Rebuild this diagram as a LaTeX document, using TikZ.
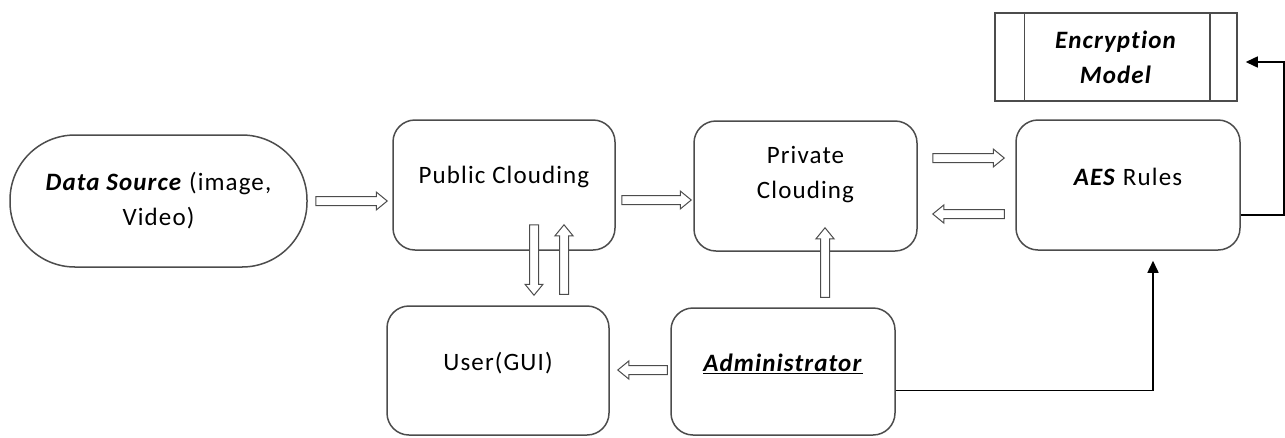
\documentclass[tikz,border=0pt]{standalone}
\usepackage{fontspec}
\setmainfont[LetterSpace=4.5, Ligatures=NoCommon]{Carlito}
\usetikzlibrary{calc,arrows.meta}
\begin{document}
\begin{tikzpicture}[x=1pt,y=-1pt,
  txt/.style={font=\fontsize{25}{35}\selectfont, align=center, text=black},
  box/.style={draw=black!70, line width=1.5pt, rounded corners=22pt, inner sep=0pt},
  barrow/.style={draw=black!70, line width=1pt, fill=white,
    to path={let \p1=(\tikztostart), \p2=(\tikztotarget), \p3=($(\p2)!11pt!(\p1)$) in
      ($(\p1)!4.5pt!90:(\p2)$) -- ($(\p3)!4.5pt!90:(\p2)$) -- ($(\p3)!9pt!90:(\p2)$) -- (\p2)
      -- ($(\p3)!9pt!-90:(\p2)$) -- ($(\p3)!4.5pt!-90:(\p2)$) -- ($(\p1)!4.5pt!-90:(\p2)$) -- cycle}},
  conn/.style={draw=black, line width=1.5pt, -{Triangle[length=12pt,width=11pt]}}
]
\useasboundingbox (0,0) rectangle (1285,437);

% nodes
\node[box, rounded corners=65pt, minimum width=297pt, minimum height=132pt,
  label={[txt, name=dst]center:\textbf{\textit{Data Source}} (image,\\Video)}] (ds) at (158.5,201) {};
\node[box, minimum width=222pt, minimum height=130pt,
  label={[txt, name=pubt, yshift=8pt]center:Public Clouding}] (pub) at (504,185) {};
\node[box, minimum width=223pt, minimum height=130pt,
  label={[txt, name=privt, yshift=11pt]center:Private\\Clouding}] (priv) at (805.5,186) {};
\node[box, minimum width=224pt, minimum height=130pt,
  label={[txt, name=aest, yshift=8pt]center:\textbf{\textit{AES}} Rules}] (aes) at (1128,185) {};
\node[draw=black!70, line width=1.5pt, minimum width=242pt, minimum height=88pt, inner sep=0pt,
  label={[txt, name=enct]center:\textbf{\textit{Encryption}}\\\textbf{\textit{Model}}}] (enc) at (1116,57) {};
\node[box, minimum width=222pt, minimum height=129pt,
  label={[txt, name=usert, yshift=7pt]center:User(GUI)}] (user) at (498,370.5) {};
\node[box, minimum width=224pt, minimum height=127pt,
  label={[txt, name=admt, yshift=8pt]center:\underline{\textbf{\textit{Administrator}}}}] (adm) at (783,371.5) {};

% process-box side lines
\draw[draw=black!70, line width=1.5pt] ($(enc.north west)+(30,0)$) -- ($(enc.south west)+(30,0)$);
\draw[draw=black!70, line width=1.5pt] ($(enc.north east)+(-28,0)$) -- ($(enc.south east)+(-28,0)$);

% block arrows
\coordinate (a1s) at ($(ds.east)+(8,0)$);
\coordinate (a1e) at ($(a1s -| pub.west)+(-5,0)$);
\draw[barrow] (a1s) to (a1e);

\coordinate (a2s) at ($(pub.east)+(6,15)$);
\coordinate (a2e) at ($(a2s -| priv.west)+(-2,0)$);
\draw[barrow] (a2s) to (a2e);

\coordinate (a3s) at ($(priv.east)+(15,-28)$);
\coordinate (a3e) at ($(a3s -| aes.west)+(-11,0)$);
\draw[barrow] (a3s) to (a3e);

\coordinate (a4s) at ($(aes.west)+(-11,29)$);
\coordinate (a4e) at ($(a4s -| priv.east)+(15,0)$);
\draw[barrow] (a4s) to (a4e);

\coordinate (a5s) at ($(pub.south)+(30,-26)$);
\coordinate (a5e) at ($(a5s |- user.north)+(0,-10)$);
\draw[barrow] (a5s) to (a5e);

\coordinate (a6s) at ($(user.north)+(66,-11)$);
\coordinate (a6e) at ($(a6s |- pub.south)+(0,-26)$);
\draw[barrow] (a6s) to (a6e);

\coordinate (a7s) at ($(adm.north)+(42,-10)$);
\coordinate (a7e) at ($(a7s |- priv.south)+(0,-24)$);
\draw[barrow] (a7s) to (a7e);

\coordinate (a8s) at ($(adm.west)+(-3,-1.5)$);
\coordinate (a8e) at ($(a8s -| user.east)+(8,0)$);
\draw[barrow] (a8s) to (a8e);

% line connectors
\coordinate (c1s) at ($(aes.east)+(0,30)$);
\coordinate (c1c) at ($(c1s)+(43,0)$);
\draw[conn] (c1s) -- (c1c) |- ($(enc.east)+(8,5)$);
\coordinate (c2s) at ($(adm.east)+(0,19)$);
\draw[conn] (c2s) -| ($(aes.south)+(25,10)$);
\end{tikzpicture}
\end{document}
